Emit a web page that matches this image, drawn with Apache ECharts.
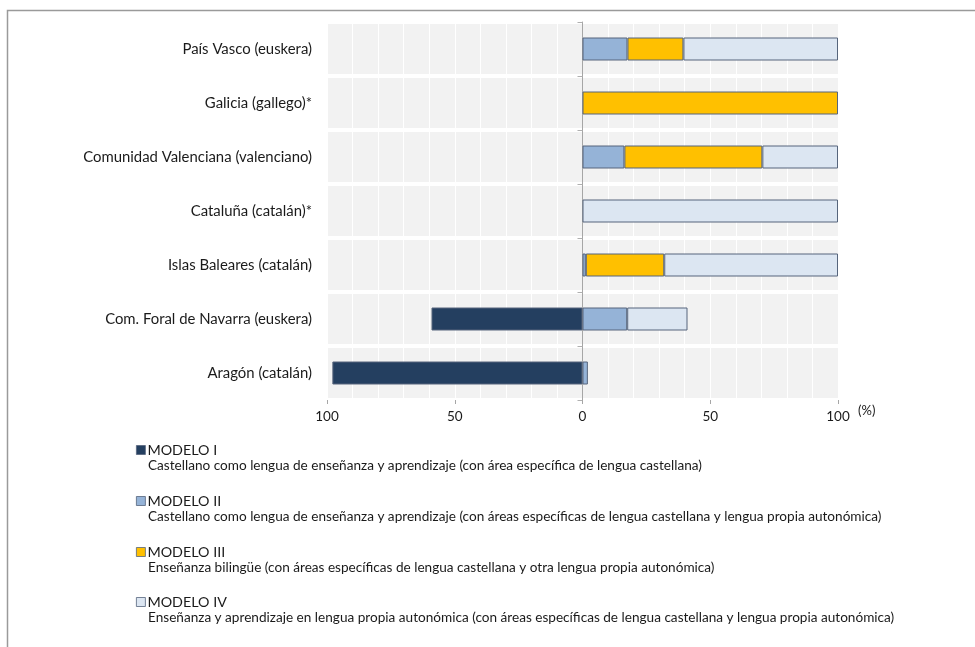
<!DOCTYPE html>
<html>
<head>
<meta charset="utf-8">
<style>
  html, body { margin: 0; padding: 0; background: #fff; }
  #chart { width: 975px; height: 647px; }
</style>
<script src="https://cdn.jsdelivr.net/npm/echarts@6/dist/echarts.min.js"></script>
</head>
<body>
<div id="chart"></div>
<script>
// Regions and the language taught in each
const categories = [
  'País Vasco (euskera)',
  'Galicia (gallego)*',
  'Comunidad Valenciana (valenciano)',
  'Cataluña (catalán)*',
  'Islas Baleares (catalán)',
  'Com. Foral de Navarra (euskera)',
  'Aragón (catalán)'
];

// Share of pupils (%) per teaching model; Modelo I is plotted to the left of zero
const modeloI   = [null, null, null, null, null, -59.1, -97.9];
const modeloII  = [17.6, null, 16.4, null, 1.3, 17.5, 2.1];
const modeloIII = [21.9, 100, 54.0, null, 30.7, null, null];
const modeloIV  = [60.5, null, 29.6, 100, 68.0, 23.6, null];

const seriesNames = ['MODELO I', 'MODELO II', 'MODELO III', 'MODELO IV'];
const seriesDescriptions = [
  'Castellano como lengua de enseñanza y aprendizaje (con área específica de lengua castellana)',
  'Castellano como lengua de enseñanza y aprendizaje (con áreas específicas de lengua castellana y lengua propia autonómica)',
  'Enseñanza bilingüe (con áreas específicas de lengua castellana y otra lengua propia autonómica)',
  'Enseñanza y aprendizaje en lengua propia autonómica (con áreas específicas de lengua castellana y lengua propia autonómica)'
];
const seriesColors = ['#243f60', '#95b3d7', '#ffc000', '#dce6f2'];

const xTicks = [-100, -50, 0, 50, 100];

const FONT = 'Lato, "Open Sans", sans-serif';
const TEXT = '#1a1a1a';

const chart = echarts.init(document.getElementById('chart'), null, { renderer: 'canvas' });

const dataSets = [modeloI, modeloII, modeloIII, modeloIV];
const series = dataSets.map((d, i) => ({
  name: seriesNames[i],
  type: 'bar',
  stack: 'total',
  barWidth: 23,
  xAxisIndex: 0,
  yAxisIndex: 0,
  data: d,
  itemStyle: { color: seriesColors[i], borderColor: '#56657c', borderWidth: 1 },
  emphasis: { disabled: true },
  animation: false
}));

// One small legend block per model, each followed by its description
const legendTop = [443, 494, 545, 595];
const legends = seriesNames.map((n, i) => ({
  data: [n],
  left: 136,
  top: legendTop[i],
  orient: 'vertical',
  icon: 'rect',
  itemWidth: 9,
  itemHeight: 9,
  itemGap: 0,
  padding: 0,
  selectedMode: false,
  itemStyle: { borderWidth: 0.8 },
  textStyle: { fontFamily: FONT, fontSize: 14.3, color: TEXT, padding: [0, 0, 0, -3] }
}));

const graphics = [
  {
    type: 'rect',
    shape: { x: 7.5, y: 10.5, width: 1000, height: 700 },
    style: { fill: 'none', stroke: '#9a9a9a', lineWidth: 1.5 },
    silent: true,
    z: -10
  },
  {
    type: 'text',
    left: 858,
    top: 404,
    style: { text: '(%)', font: '13px ' + FONT, fill: TEXT },
    silent: true
  }
];
seriesDescriptions.forEach((t, i) => {
  graphics.push({
    type: 'text',
    left: 148,
    top: legendTop[i] + 16,
    style: { text: t, font: '13.6px ' + FONT, fill: TEXT },
    silent: true
  });
});

chart.setOption({
  animation: false,
  backgroundColor: '#fff',
  grid: [
    {
      left: 327, right: 137, top: 22, bottom: 247,
      show: true, backgroundColor: '#f2f2f2', borderWidth: 0
    },
    // right half of the plot, used only to draw the zero line with its ticks
    { left: 582.5, right: 137, top: 22, bottom: 247, show: false }
  ],
  legend: legends,
  graphic: graphics,
  xAxis: [
    {
      type: 'value',
      gridIndex: 0,
      min: xTicks[0],
      max: xTicks[xTicks.length - 1],
      interval: 50,
      axisLine: { onZero: false, lineStyle: { color: '#a6a6a6', width: 1 } },
      axisTick: { show: true, length: 4, lineStyle: { color: '#a6a6a6' } },
      axisLabel: {
        fontFamily: FONT, fontSize: 13.5, color: TEXT, margin: 10,
        formatter: v => String(Math.abs(v))
      },
      splitLine: { show: true, lineStyle: { color: '#ffffff', width: 1 } },
      minorTick: { show: false, splitNumber: 5 },
      minorSplitLine: { show: true, lineStyle: { color: '#ffffff', width: 1 } }
    },
    {
      type: 'value',
      gridIndex: 1,
      min: 0,
      max: 100,
      show: false
    }
  ],
  yAxis: [
    {
      type: 'category',
      gridIndex: 0,
      data: categories,
      inverse: true,
      axisLine: { show: false },
      axisTick: { show: false },
      axisLabel: { fontFamily: FONT, fontSize: 14.9, color: TEXT, margin: 15 },
      splitLine: { show: true, lineStyle: { color: '#ffffff', width: 4 } }
    },
    {
      type: 'category',
      gridIndex: 1,
      data: categories,
      inverse: true,
      position: 'left',
      axisLine: { show: true, onZero: false, lineStyle: { color: '#a6a6a6', width: 1 } },
      axisTick: { show: true, length: 5, lineStyle: { color: '#b0b0b0' } },
      axisLabel: { show: false },
      splitLine: { show: false }
    }
  ],
  series: series
});
</script>
</body>
</html>
